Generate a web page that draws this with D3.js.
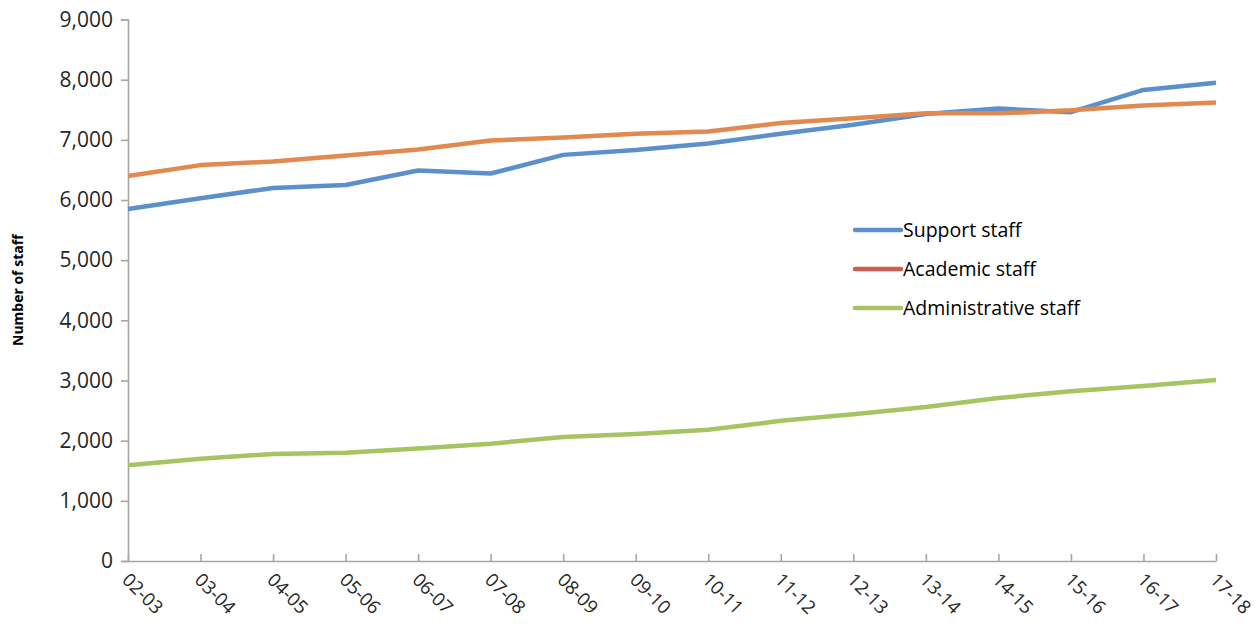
<!DOCTYPE html>
<html>
<head>
<meta charset="utf-8">
<script src="https://cdn.jsdelivr.net/npm/d3@7"></script>
<style>
  html, body { margin: 0; padding: 0; background: #fff; }
  svg { display: block; }
</style>
</head>
<body>
<svg id="chart" width="1260" height="630"></svg>
<script>
// Academic years on the category axis
const years = ["02-03","03-04","04-05","05-06","06-07","07-08","08-09","09-10",
               "10-11","11-12","12-13","13-14","14-15","15-16","16-17","17-18"];

// Staff headcounts per year
const supportStaff = [5850,6030,6200,6250,6490,6440,6750,6830,6940,7100,7250,7430,7520,7460,7830,7950];
const academicStaff = [6400,6580,6640,6740,6840,6990,7040,7100,7140,7280,7360,7440,7440,7490,7570,7620];
const administrativeStaff = [1590,1700,1780,1800,1870,1950,2060,2110,2180,2330,2440,2560,2710,2820,2910,3010];

const yTicks = [0,1000,2000,3000,4000,5000,6000,7000,8000,9000];

const series = [
  { name: "Support staff", values: supportStaff, color: "#5B90CC", legendColor: "#5B90CC" },
  { name: "Academic staff", values: academicStaff, color: "#E1894F", legendColor: "#D05B4E" },
  { name: "Administrative staff", values: administrativeStaff, color: "#A5C462", legendColor: "#A5C462" }
];

const svg = d3.select("#chart");
const margin = { left: 128, right: 44, top: 19.5, bottom: 69 };
const W = 1260, H = 630;

const x = d3.scalePoint().domain(years).range([margin.left, W - margin.right]);
const y = d3.scaleLinear().domain([0, 9000]).range([H - margin.bottom, margin.top]);

const font = "'Open Sans', 'Liberation Sans', sans-serif";
const axisColor = "#A6A6A6";

// Y axis
const yAxis = svg.append("g")
  .attr("transform", `translate(${margin.left},0)`)
  .call(d3.axisLeft(y).tickValues(yTicks).tickSize(7).tickPadding(8)
        .tickFormat(d3.format(",")));
yAxis.select(".domain").attr("stroke", axisColor).attr("stroke-width", 1.6);
yAxis.selectAll(".tick line").attr("stroke", axisColor).attr("stroke-width", 1.6);
yAxis.selectAll(".tick text")
  .attr("font-family", font).attr("font-size", 21).attr("fill", "#262626");

// X axis, ticks pointing up into the plot
const xAxis = svg.append("g")
  .attr("transform", `translate(0,${y(0)})`)
  .call(d3.axisBottom(x).tickSize(-7).tickSizeOuter(0).tickFormat(""));
xAxis.select(".domain").attr("stroke", axisColor).attr("stroke-width", 1.6);
xAxis.selectAll(".tick line").attr("stroke", axisColor).attr("stroke-width", 1.6);

// Rotated category labels
svg.append("g").selectAll("text")
  .data(years)
  .join("text")
  .attr("transform", d => `translate(${x(d) - 7},${y(0) + 20}) rotate(45)`)
  .attr("font-family", font).attr("font-size", 18.5).attr("fill", "#262626")
  .attr("text-anchor", "start")
  .text(d => d);

// Y axis title
svg.append("text")
  .attr("transform", `translate(23,${(y(0) + y(9000)) / 2}) rotate(-90)`)
  .attr("text-anchor", "middle")
  .attr("font-family", font).attr("font-size", 14).attr("font-weight", "bold")
  .attr("fill", "#000")
  .text("Number of staff");

// Lines
const line = d3.line().x((d, i) => x(years[i])).y(d => y(d));
svg.append("g").selectAll("path")
  .data(series)
  .join("path")
  .attr("d", s => line(s.values))
  .attr("fill", "none")
  .attr("stroke", s => s.color)
  .attr("stroke-width", 4.5)
  .attr("stroke-linejoin", "round");

// Legend
const legend = svg.append("g").attr("transform", "translate(853,230)");
const rows = legend.selectAll("g").data(series).join("g")
  .attr("transform", (d, i) => `translate(0,${i * 39})`);
rows.append("line")
  .attr("x1", 2).attr("x2", 48).attr("y1", 0).attr("y2", 0)
  .attr("stroke", d => d.legendColor).attr("stroke-width", 4.5)
  .attr("stroke-linecap", "round");
rows.append("text")
  .attr("x", 50).attr("y", 0).attr("dy", "0.35em")
  .attr("font-family", font).attr("font-size", 19.5).attr("fill", "#000")
  .text(d => d.name);
</script>
</body>
</html>
